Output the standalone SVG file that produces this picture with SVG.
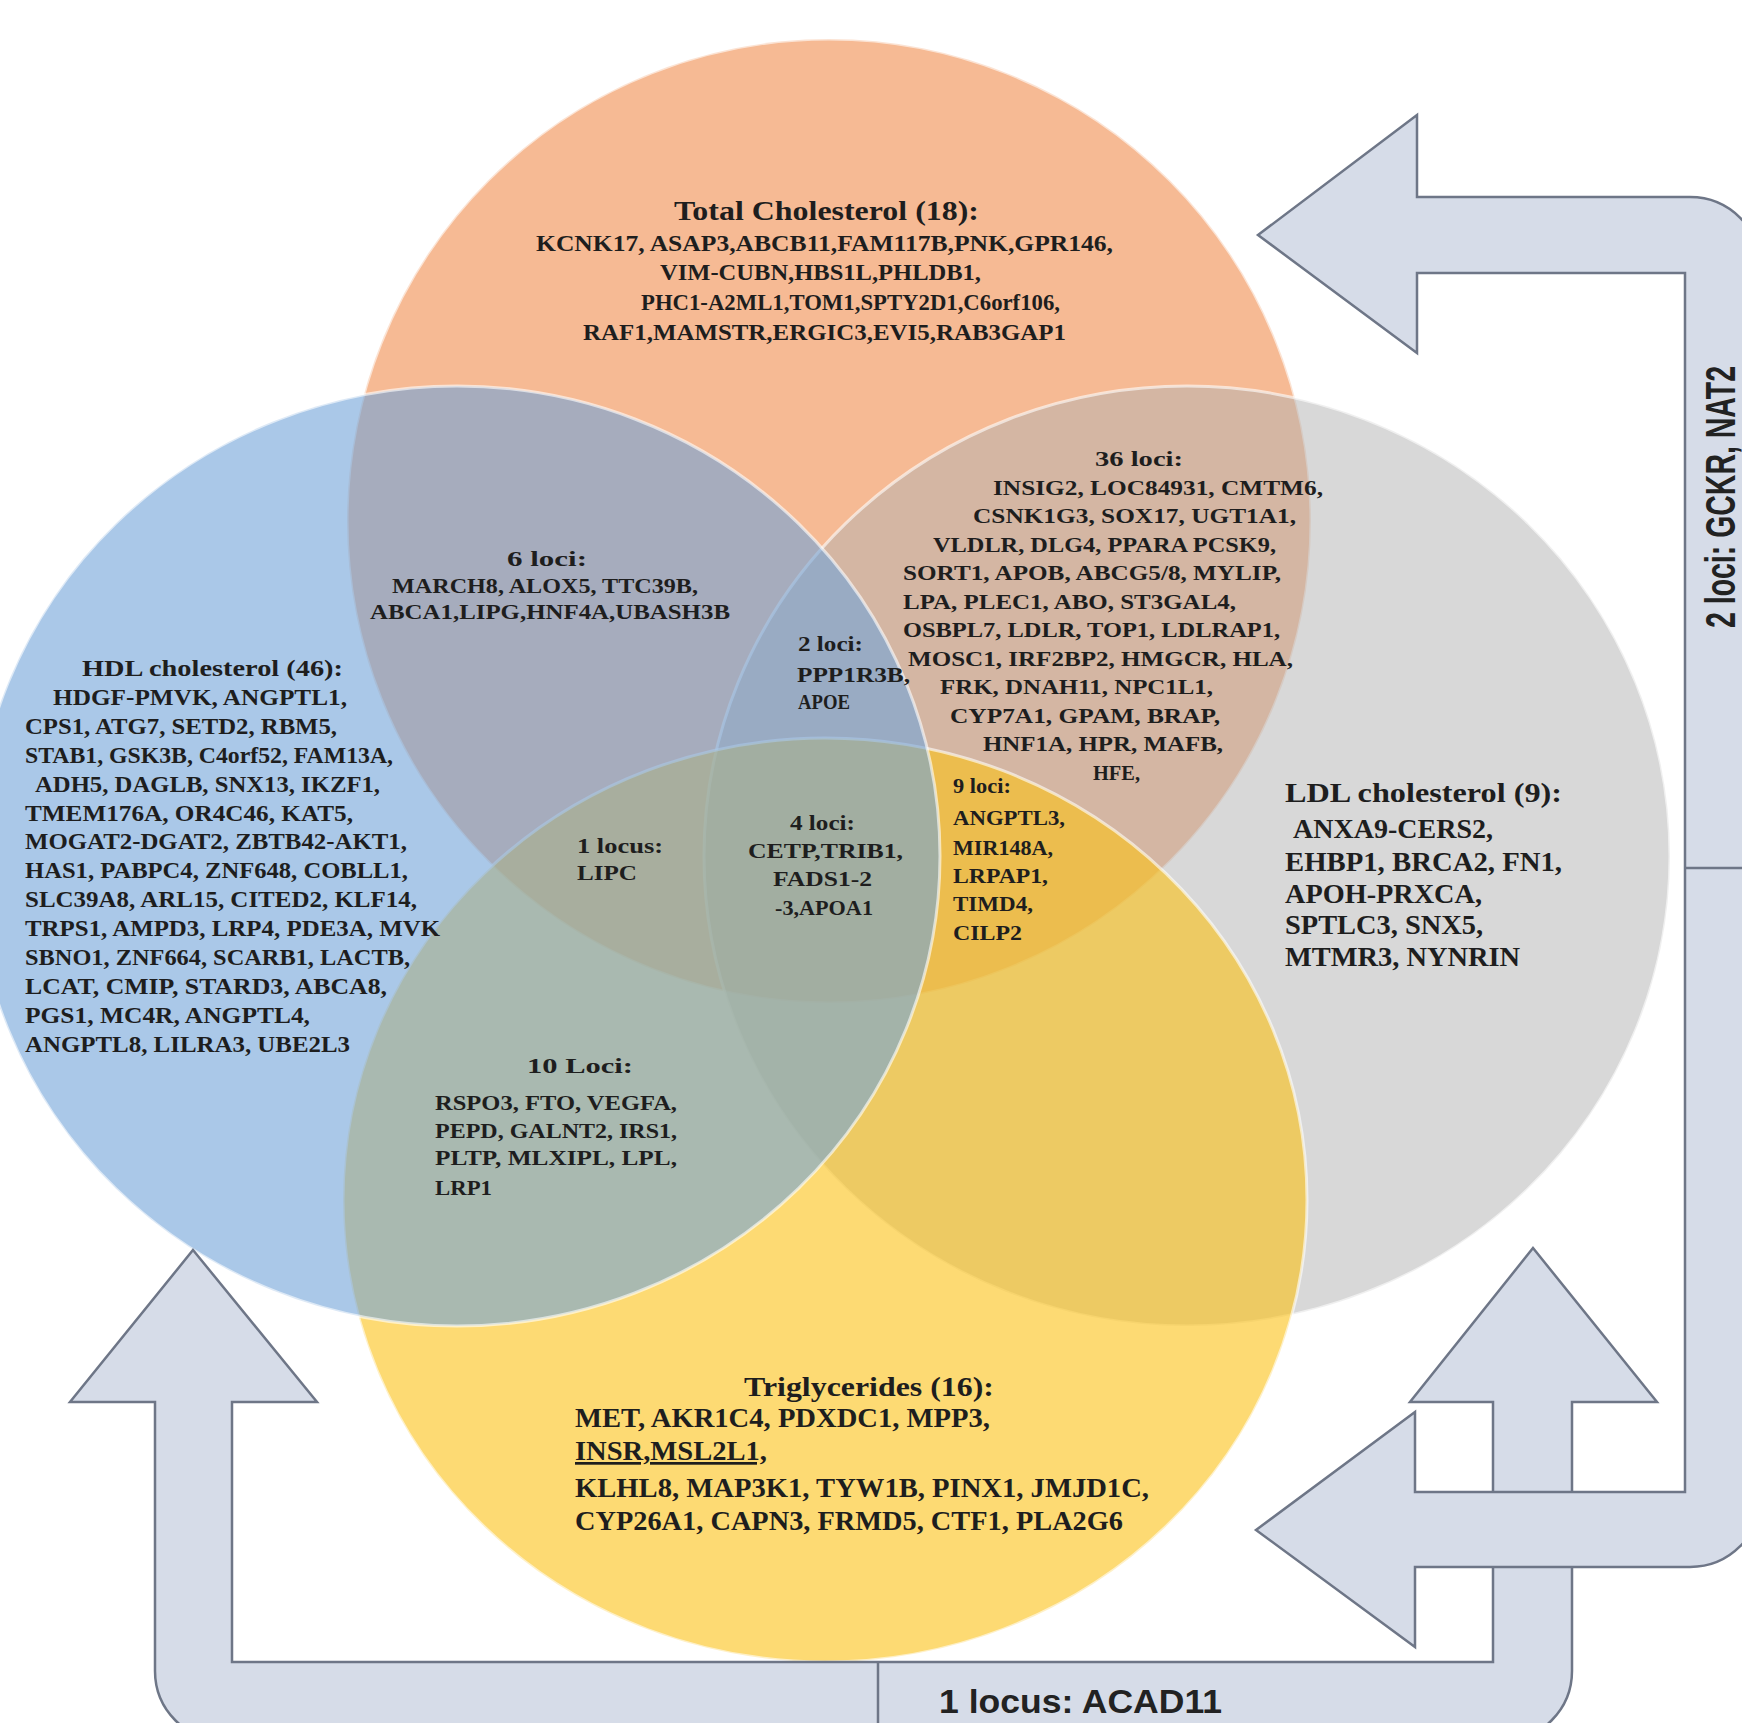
<svg xmlns="http://www.w3.org/2000/svg" width="1742" height="1723" viewBox="0 0 1742 1723">
<style>
.t{font-family:"Liberation Serif","Times New Roman",serif;font-weight:bold;fill:#1e1e1e}
.h{font-size:27px}
.b{font-size:24px}
.s{font-size:22px}
.l{font-size:27px}
.lab{font-family:"Liberation Sans",Arial,sans-serif;font-weight:bold;fill:#222}
.arrow{fill:#D6DCE8;stroke:#6E7687;stroke-width:2.5;stroke-linejoin:miter}
.venn{stroke:#ffffff;stroke-opacity:0.6;stroke-width:3}
</style>
<rect width="1742" height="1723" fill="#ffffff"/>
<g id="sets">
<g id="tc"><circle class="venn" cx="829" cy="521" r="482" fill="#F6BA94"/></g>
<g id="ldl"><ellipse class="venn" cx="1187" cy="856" rx="483" ry="470" fill="#B1B1B1" fill-opacity="0.5"/></g>
<g id="tg"><ellipse class="venn" cx="825" cy="1200" rx="482" ry="462" fill="#FCC116" fill-opacity="0.6"/></g>
<g id="hdl"><ellipse class="venn" cx="457" cy="856" rx="483" ry="470" fill="#71A3D9" fill-opacity="0.6"/></g>
</g>
<g id="connectors">
<path id="arrow-acad11" class="arrow" d="M193,1250 L317,1402 L232,1402 L232,1662 L1493,1662 L1493,1402 L1410,1402 L1533,1248 L1657,1402 L1572,1402 L1572,1671 A70,70 0 0 1 1502,1741 L225,1741 A70,70 0 0 1 155,1671 L155,1402 L70,1402 Z"/>
<path id="arrow-gckr" class="arrow" d="M1258,235 L1417,115 L1417,197 L1690,197 A71,71 0 0 1 1761,268 L1761,1496 A71,71 0 0 1 1690,1567 L1415,1567 L1415,1647 L1256,1530 L1415,1412 L1415,1492 L1685,1492 L1685,273 L1417,273 L1417,353 Z"/>
<line x1="878" y1="1662" x2="878" y2="1723" stroke="#6E7687" stroke-width="2.5"/>
<line x1="1685" y1="868" x2="1742" y2="868" stroke="#6E7687" stroke-width="2.5"/>
</g>
<g id="label-gckr"><text class="lab" font-size="42" transform="translate(1735,497) rotate(-90)" text-anchor="middle" textLength="262" lengthAdjust="spacingAndGlyphs">2 loci: GCKR, NAT2</text></g>
<g id="label-acad11"><text class="lab" font-size="34" x="939" y="1713" textLength="283" lengthAdjust="spacingAndGlyphs">1 locus: ACAD11</text></g>
<g id="text-tc" class="t">
<text class="h" x="674" y="220" textLength="305" lengthAdjust="spacingAndGlyphs">Total Cholesterol (18):</text>
<text class="b" x="536" y="251" textLength="577" lengthAdjust="spacingAndGlyphs">KCNK17, ASAP3,ABCB11,FAM117B,PNK,GPR146,</text>
<text class="b" x="660" y="280" textLength="321" lengthAdjust="spacingAndGlyphs">VIM-CUBN,HBS1L,PHLDB1,</text>
<text class="b" x="641" y="310" textLength="419" lengthAdjust="spacingAndGlyphs">PHC1-A2ML1,TOM1,SPTY2D1,C6orf106,</text>
<text class="b" x="583" y="340" textLength="483" lengthAdjust="spacingAndGlyphs">RAF1,MAMSTR,ERGIC3,EVI5,RAB3GAP1</text>
</g>
<g id="text-36" class="t s">
<text x="1095" y="466" textLength="88" lengthAdjust="spacingAndGlyphs">36 loci:</text>
<text x="993" y="495" textLength="330" lengthAdjust="spacingAndGlyphs">INSIG2, LOC84931, CMTM6,</text>
<text x="973" y="523" textLength="323" lengthAdjust="spacingAndGlyphs">CSNK1G3, SOX17, UGT1A1,</text>
<text x="933" y="552" textLength="343" lengthAdjust="spacingAndGlyphs">VLDLR, DLG4, PPARA PCSK9,</text>
<text x="903" y="580" textLength="378" lengthAdjust="spacingAndGlyphs">SORT1, APOB, ABCG5/8, MYLIP,</text>
<text x="903" y="609" textLength="333" lengthAdjust="spacingAndGlyphs">LPA, PLEC1, ABO, ST3GAL4,</text>
<text x="903" y="637" textLength="377" lengthAdjust="spacingAndGlyphs">OSBPL7, LDLR, TOP1, LDLRAP1,</text>
<text x="908" y="666" textLength="385" lengthAdjust="spacingAndGlyphs">MOSC1, IRF2BP2, HMGCR, HLA,</text>
<text x="940" y="694" textLength="273" lengthAdjust="spacingAndGlyphs">FRK, DNAH11, NPC1L1,</text>
<text x="950" y="723" textLength="270" lengthAdjust="spacingAndGlyphs">CYP7A1, GPAM, BRAP,</text>
<text x="983" y="751" textLength="240" lengthAdjust="spacingAndGlyphs">HNF1A, HPR, MAFB,</text>
<text x="1093" y="780" textLength="47" lengthAdjust="spacingAndGlyphs">HFE,</text>
</g>
<g id="text-6" class="t s">
<text x="507" y="566" textLength="80" lengthAdjust="spacingAndGlyphs">6 loci:</text>
<text x="392" y="593" textLength="306" lengthAdjust="spacingAndGlyphs">MARCH8, ALOX5, TTC39B,</text>
<text x="370" y="619" textLength="360" lengthAdjust="spacingAndGlyphs">ABCA1,LIPG,HNF4A,UBASH3B</text>
</g>
<g id="text-2" class="t s">
<text x="798" y="651" textLength="65" lengthAdjust="spacingAndGlyphs">2 loci:</text>
<text x="797" y="682" textLength="113" lengthAdjust="spacingAndGlyphs">PPP1R3B,</text>
<text x="798" y="709" textLength="52" lengthAdjust="spacingAndGlyphs">APOE</text>
</g>
<g id="text-hdl" class="t b">
<text x="82" y="676" textLength="261" lengthAdjust="spacingAndGlyphs">HDL cholesterol (46):</text>
<text x="53" y="705" textLength="294" lengthAdjust="spacingAndGlyphs">HDGF-PMVK, ANGPTL1,</text>
<text x="25" y="734" textLength="312" lengthAdjust="spacingAndGlyphs">CPS1, ATG7, SETD2, RBM5,</text>
<text x="25" y="763" textLength="368" lengthAdjust="spacingAndGlyphs">STAB1, GSK3B, C4orf52, FAM13A,</text>
<text x="35" y="792" textLength="345" lengthAdjust="spacingAndGlyphs">ADH5, DAGLB, SNX13, IKZF1,</text>
<text x="25" y="821" textLength="328" lengthAdjust="spacingAndGlyphs">TMEM176A, OR4C46, KAT5,</text>
<text x="25" y="849" textLength="382" lengthAdjust="spacingAndGlyphs">MOGAT2-DGAT2, ZBTB42-AKT1,</text>
<text x="25" y="878" textLength="383" lengthAdjust="spacingAndGlyphs">HAS1, PABPC4, ZNF648, COBLL1,</text>
<text x="25" y="907" textLength="392" lengthAdjust="spacingAndGlyphs">SLC39A8, ARL15, CITED2, KLF14,</text>
<text x="25" y="936" textLength="415" lengthAdjust="spacingAndGlyphs">TRPS1, AMPD3, LRP4, PDE3A, MVK</text>
<text x="25" y="965" textLength="385" lengthAdjust="spacingAndGlyphs">SBNO1, ZNF664, SCARB1, LACTB,</text>
<text x="25" y="994" textLength="362" lengthAdjust="spacingAndGlyphs">LCAT, CMIP, STARD3, ABCA8,</text>
<text x="25" y="1023" textLength="285" lengthAdjust="spacingAndGlyphs">PGS1, MC4R, ANGPTL4,</text>
<text x="25" y="1052" textLength="325" lengthAdjust="spacingAndGlyphs">ANGPTL8, LILRA3, UBE2L3</text>
</g>
<g id="text-1" class="t s">
<text x="577" y="853" textLength="86" lengthAdjust="spacingAndGlyphs">1 locus:</text>
<text x="577" y="880" textLength="60" lengthAdjust="spacingAndGlyphs">LIPC</text>
</g>
<g id="text-4" class="t s">
<text x="790" y="830" textLength="65" lengthAdjust="spacingAndGlyphs">4 loci:</text>
<text x="748" y="858" textLength="155" lengthAdjust="spacingAndGlyphs">CETP,TRIB1,</text>
<text x="773" y="886" textLength="99" lengthAdjust="spacingAndGlyphs">FADS1-2</text>
<text x="775" y="915" textLength="98" lengthAdjust="spacingAndGlyphs">-3,APOA1</text>
</g>
<g id="text-9" class="t s">
<text x="953" y="793" textLength="58" lengthAdjust="spacingAndGlyphs">9 loci:</text>
<text x="953" y="825" textLength="112" lengthAdjust="spacingAndGlyphs">ANGPTL3,</text>
<text x="953" y="855" textLength="100" lengthAdjust="spacingAndGlyphs">MIR148A,</text>
<text x="953" y="883" textLength="95" lengthAdjust="spacingAndGlyphs">LRPAP1,</text>
<text x="953" y="911" textLength="80" lengthAdjust="spacingAndGlyphs">TIMD4,</text>
<text x="953" y="940" textLength="69" lengthAdjust="spacingAndGlyphs">CILP2</text>
</g>
<g id="text-ldl" class="t l">
<text x="1285" y="802" textLength="277" lengthAdjust="spacingAndGlyphs">LDL cholesterol (9):</text>
<text x="1293" y="838" textLength="200" lengthAdjust="spacingAndGlyphs">ANXA9-CERS2,</text>
<text x="1285" y="871" textLength="277" lengthAdjust="spacingAndGlyphs">EHBP1, BRCA2, FN1,</text>
<text x="1285" y="903" textLength="197" lengthAdjust="spacingAndGlyphs">APOH-PRXCA,</text>
<text x="1285" y="934" textLength="198" lengthAdjust="spacingAndGlyphs">SPTLC3, SNX5,</text>
<text x="1285" y="966" textLength="235" lengthAdjust="spacingAndGlyphs">MTMR3, NYNRIN</text>
</g>
<g id="text-10" class="t s">
<text x="527" y="1073" textLength="106" lengthAdjust="spacingAndGlyphs">10 Loci:</text>
<text x="435" y="1110" textLength="242" lengthAdjust="spacingAndGlyphs">RSPO3, FTO, VEGFA,</text>
<text x="435" y="1138" textLength="242" lengthAdjust="spacingAndGlyphs">PEPD, GALNT2, IRS1,</text>
<text x="435" y="1165" textLength="242" lengthAdjust="spacingAndGlyphs">PLTP, MLXIPL, LPL,</text>
<text x="435" y="1195" textLength="57" lengthAdjust="spacingAndGlyphs">LRP1</text>
</g>
<g id="text-tg" class="t l">
<text x="744" y="1396" textLength="250" lengthAdjust="spacingAndGlyphs">Triglycerides (16):</text>
<text x="575" y="1427" textLength="415" lengthAdjust="spacingAndGlyphs">MET, AKR1C4, PDXDC1, MPP3,</text>
<text x="575" y="1460" textLength="192" lengthAdjust="spacingAndGlyphs" text-decoration="underline">INSR,MSL2L1,</text>
<text x="575" y="1497" textLength="574" lengthAdjust="spacingAndGlyphs">KLHL8, MAP3K1, TYW1B, PINX1, JMJD1C,</text>
<text x="575" y="1530" textLength="548" lengthAdjust="spacingAndGlyphs">CYP26A1, CAPN3, FRMD5, CTF1, PLA2G6</text>
</g>
</svg>
